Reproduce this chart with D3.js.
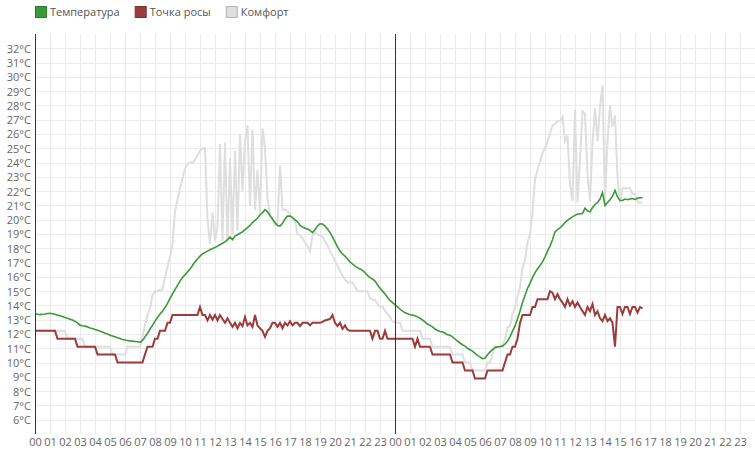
<!DOCTYPE html>
<html>
<head>
<meta charset="utf-8">
<script src="https://cdn.jsdelivr.net/npm/d3@7"></script>
<style>
  html, body { margin: 0; padding: 0; background: #fff; }
  svg { display: block; font-family: "Open Sans", sans-serif; }
</style>
</head>
<body>
<div id="chart"></div>
<script>
// two days on the axis, labels repeat every 24 hours
const hourLabels = ['00','01','02','03','04','05','06','07','08','09','10','11',
                    '12','13','14','15','16','17','18','19','20','21','22','23']
const tempTicks = [6,7,8,9,10,11,12,13,14,15,16,17,18,19,20,21,22,23,24,25,26,27,28,29,30,31,32]

const seriesNames = ['Температура', 'Точка росы', 'Комфорт']
const seriesColors = ['#3a9a3a', '#9c3b3b', '#dedede']

const stepMinutes = 10 // one reading every 10 minutes, starting at 00:00 of day one

// temperature, one row per hour
const temperature = [
  13.42, 13.38, 13.36, 13.38, 13.40, 13.44,
  13.45, 13.42, 13.38, 13.32, 13.28, 13.22,
  13.15, 13.10, 13.04, 12.98, 12.88, 12.78,
  12.62, 12.58, 12.55, 12.50, 12.42, 12.38,
  12.32, 12.26, 12.20, 12.14, 12.06, 12.00,
  11.92, 11.86, 11.80, 11.74, 11.68, 11.62,
  11.58, 11.55, 11.52, 11.50, 11.48, 11.46,
  11.41, 11.55, 11.80, 12.05, 12.35, 12.60,
  12.90, 13.15, 13.40, 13.60, 13.85, 14.15,
  14.50, 14.80, 15.10, 15.40, 15.70, 15.95,
  16.15, 16.35, 16.55, 16.80, 17.05, 17.25,
  17.45, 17.60, 17.70, 17.80, 17.90, 17.98,
  18.05, 18.15, 18.25, 18.35, 18.45, 18.60,
  18.80, 18.60, 18.85, 18.95, 19.05, 19.15,
  19.30, 19.45, 19.60, 19.80, 19.95, 20.10,
  20.35, 20.50, 20.70, 20.55, 20.30, 20.05,
  19.80, 19.60, 19.55, 19.75, 20.05, 20.25,
  20.25, 20.15, 20.00, 19.85, 19.60, 19.50,
  19.40, 19.35, 19.25, 19.10, 19.30, 19.55,
  19.72, 19.70, 19.55, 19.35, 19.10, 18.80,
  18.45, 18.10, 17.80, 17.60, 17.45, 17.25,
  17.05, 16.90, 16.75, 16.65, 16.55, 16.45,
  16.30, 16.10, 15.95, 15.85, 15.70, 15.45,
  15.20, 15.00, 14.80, 14.55, 14.35, 14.20,
  14.05, 13.90, 13.75, 13.60, 13.50, 13.42,
  13.35, 13.32, 13.28, 13.20, 13.10, 12.98,
  12.85, 12.70, 12.60, 12.50, 12.35, 12.25,
  12.18, 12.15, 12.05, 11.95, 11.92, 11.80,
  11.65, 11.50, 11.37, 11.25, 11.15, 11.00,
  10.90, 10.80, 10.65, 10.50, 10.40, 10.28,
  10.30, 10.55, 10.75, 10.90, 11.05, 11.10,
  11.12, 11.15, 11.30, 11.50, 11.80, 12.20,
  12.55, 13.05, 13.60, 14.20, 14.70, 15.20,
  15.55, 15.95, 16.30, 16.55, 16.80, 17.05,
  17.40, 17.80, 18.15, 18.60, 19.15, 19.30,
  19.42, 19.60, 19.80, 19.95, 20.10, 20.20,
  20.30, 20.40, 20.40, 20.45, 20.80, 20.60,
  20.55, 20.85, 21.05, 21.20, 21.45, 21.90,
  21.00, 21.20, 21.40, 21.65, 22.05, 21.60,
  21.35, 21.35, 21.45, 21.40, 21.45, 21.48,
  21.42, 21.50, 21.55, 21.52
]

// dew point
const dewPoint = [
  12.22, 12.22, 12.22, 12.22, 12.22, 12.22,
  12.22, 12.22, 12.22, 11.67, 11.67, 11.67,
  11.67, 11.67, 11.67, 11.67, 11.67, 11.11,
  11.11, 11.11, 11.11, 11.11, 11.11, 11.11,
  11.11, 10.56, 10.56, 10.56, 10.56, 10.56,
  10.56, 10.56, 10.56, 10.00, 10.00, 10.00,
  10.00, 10.00, 10.00, 10.00, 10.00, 10.00,
  10.00, 10.00, 10.56, 11.11, 11.11, 11.11,
  11.67, 11.67, 12.22, 12.22, 12.22, 12.78,
  12.78, 13.33, 13.33, 13.33, 13.33, 13.33,
  13.33, 13.33, 13.33, 13.33, 13.33, 13.33,
  13.89, 13.33, 13.33, 12.95, 13.33, 13.00,
  13.33, 12.95, 13.33, 13.05, 12.78, 13.10,
  12.78, 12.50, 12.78, 12.40, 12.78, 12.55,
  13.20, 12.60, 12.78, 12.50, 13.33, 12.60,
  12.40, 12.22, 11.80, 12.22, 12.40, 12.78,
  12.78, 12.50, 12.78, 12.40, 12.78, 12.60,
  12.90, 12.60, 12.78, 12.78, 12.55, 12.78,
  12.78, 12.78, 12.60, 12.78, 12.78, 12.78,
  12.78, 12.85, 12.95, 13.00, 13.05, 13.33,
  12.78, 12.55, 12.78, 12.35, 12.60, 12.30,
  12.22, 12.22, 12.22, 12.22, 12.22, 12.22,
  12.22, 12.22, 12.22, 11.67, 12.22, 12.22,
  11.67, 11.67, 12.22, 11.67, 11.67, 11.67,
  11.67, 11.67, 11.67, 11.67, 11.67, 11.67,
  11.67, 11.67, 11.11, 11.67, 11.11, 11.11,
  11.11, 11.11, 11.11, 10.56, 10.56, 10.56,
  10.56, 10.56, 10.56, 10.56, 10.56, 10.00,
  10.00, 10.00, 10.00, 10.00, 9.44, 9.44,
  9.44, 9.44, 8.89, 8.89, 8.89, 8.89,
  8.89, 9.44, 9.44, 9.44, 9.44, 9.44,
  9.44, 9.44, 10.00, 10.56, 10.56, 11.11,
  11.11, 11.67, 12.78, 13.33, 13.33, 13.33,
  13.33, 13.89, 13.89, 14.44, 14.44, 14.44,
  14.44, 14.44, 15.00, 14.90, 14.44, 14.80,
  14.44, 14.20, 13.89, 14.44, 14.00, 14.30,
  13.89, 14.20, 13.89, 13.60, 13.33, 13.89,
  13.60, 14.10, 13.33, 13.60, 13.10, 12.90,
  13.33, 12.90, 13.10, 12.78, 11.11, 13.89,
  13.89, 13.40, 13.89, 13.89, 13.40, 13.89,
  13.89, 13.50, 13.89, 13.80
]

// comfort (feels-like) temperature
const comfort = [
  12.22, 12.22, 12.22, 12.22, 12.22, 12.22,
  12.22, 12.22, 12.22, 12.22, 12.22, 12.22,
  12.22, 11.67, 11.67, 11.67, 11.67, 11.67,
  11.67, 11.67, 11.11, 11.11, 11.11, 11.11,
  11.11, 11.11, 11.11, 11.11, 11.11, 11.11,
  11.11, 10.56, 10.56, 10.56, 10.56, 10.56,
  10.56, 11.11, 11.11, 11.11, 11.11, 11.11,
  11.11, 11.80, 12.65, 13.30, 13.80, 14.70,
  15.00, 15.00, 15.10, 15.10, 16.00, 16.70,
  17.40, 18.30, 20.60, 21.40, 22.20, 22.90,
  23.60, 23.90, 24.00, 24.00, 24.20, 24.50,
  24.80, 25.00, 25.00, 20.00, 18.30, 20.50,
  18.50, 19.50, 25.30, 18.50, 25.40, 18.40,
  24.30, 19.00, 24.80, 19.20, 26.00, 22.00,
  25.50, 26.60, 21.00, 26.30, 20.70, 23.50,
  20.50, 26.40, 25.00, 21.50, 20.30, 20.00,
  19.60, 19.70, 23.80, 20.70, 20.70, 20.60,
  20.40, 20.10, 19.90, 19.00, 18.90, 18.70,
  18.40, 18.20, 17.80, 18.90, 19.10, 19.00,
  18.90, 18.80, 18.50, 18.20, 17.80, 17.50,
  17.10, 16.80, 16.40, 16.10, 15.80, 15.60,
  15.60, 15.60, 15.30, 15.00, 15.00, 15.00,
  15.00, 15.00, 14.50, 14.40, 14.40, 14.10,
  13.90, 13.90, 13.60, 13.40, 13.20, 12.88,
  12.80, 12.80, 12.80, 12.22, 12.22, 12.22,
  12.22, 12.22, 12.22, 12.22, 12.22, 11.67,
  11.67, 11.67, 11.67, 11.11, 11.11, 11.11,
  11.11, 11.11, 11.11, 11.11, 11.11, 10.56,
  10.56, 10.56, 10.56, 10.56, 10.00, 10.00,
  10.00, 9.44, 9.44, 9.44, 9.44, 9.44,
  9.44, 10.00, 10.00, 10.56, 11.11, 11.11,
  11.11, 11.25, 11.67, 12.45, 12.55, 13.40,
  13.85, 14.60, 15.30, 16.60, 17.20, 18.40,
  19.00, 20.50, 22.80, 23.50, 24.00, 24.70,
  25.00, 25.50, 26.00, 26.60, 26.70, 26.90,
  26.90, 27.20, 25.50, 25.90, 22.50, 21.30,
  27.70, 21.20, 24.20, 27.60, 27.40, 23.20,
  21.30, 25.40, 27.80, 25.50, 27.90, 29.40,
  21.30, 25.50, 28.00, 26.50, 27.30, 23.00,
  21.20, 22.20, 22.20, 22.20, 22.20, 21.80,
  21.80, 21.20, 21.20, 21.20
]

const renderChart = () => {

  const svgWidth = 755
  const svgHeight = 451

  // space for the legend on top and the hour labels below
  const margin = { top: 34, right: 0, bottom: 17, left: 35 }
  const innerWidth = svgWidth - margin.left - margin.right
  const innerHeight = svgHeight - margin.top - margin.bottom

  const hoursShown = 48

  const xScale = d3.scaleLinear()
    .domain([0, hoursShown])
    .range([0, innerWidth])

  const yScale = d3.scaleLinear()
    .domain([5, 33])
    .range([innerHeight, 0])

  const crisp = v => Math.round(v) + 0.5

  const svg = d3.select('#chart')
    .append('svg')
      .attr('width', svgWidth)
      .attr('height', svgHeight)

  const g = svg.append('g')
    .attr('transform', `translate(${margin.left}, ${margin.top})`)

  // grid
  g.append('g').selectAll('line')
    .data(d3.range(1, hoursShown))
    .enter().append('line')
      .attr('x1', d => crisp(xScale(d)))
      .attr('x2', d => crisp(xScale(d)))
      .attr('y1', 0)
      .attr('y2', innerHeight)
      .style('stroke', '#ebebeb')
      .style('stroke-width', 1)

  g.append('g').selectAll('line')
    .data(tempTicks)
    .enter().append('line')
      .attr('x1', 0)
      .attr('x2', innerWidth)
      .attr('y1', d => crisp(yScale(d)))
      .attr('y2', d => crisp(yScale(d)))
      .style('stroke', '#ebebeb')
      .style('stroke-width', 1)

  // axes
  const xAxis = d3.axisBottom(xScale)
    .tickValues(d3.range(0, hoursShown))
    .tickFormat(d => hourLabels[d % 24])
    .tickSize(0)
    .tickPadding(4)

  const yAxis = d3.axisLeft(yScale)
    .tickValues(tempTicks)
    .tickFormat(d => `${d}°C`)
    .tickSize(0)
    .tickPadding(4)

  const xAxisG = g.append('g')
    .attr('transform', `translate(0, ${innerHeight})`)
    .call(xAxis)
  xAxisG.select('.domain').remove()

  const yAxisG = g.append('g').call(yAxis)
  yAxisG.select('.domain').remove()
  yAxisG.selectAll('text').attr('dy', '0.35em')

  svg.selectAll('.tick text')
    .attr('font-size', 11)
    .attr('font-family', '"Open Sans", sans-serif')
    .style('fill', '#666')

  // the series
  const xValue = (d, i) => xScale(i * stepMinutes / 60)

  const seriesLine = d3.line()
    .x(xValue)
    .y(d => yScale(d))

  g.append('path')
    .datum(comfort)
    .attr('d', seriesLine)
    .style('fill', 'none')
    .style('stroke', seriesColors[2])
    .style('stroke-width', 2)

  g.append('path')
    .datum(dewPoint)
    .attr('d', seriesLine)
    .style('fill', 'none')
    .style('stroke', seriesColors[1])
    .style('stroke-width', 2)

  g.append('path')
    .datum(temperature)
    .attr('d', seriesLine)
    .style('fill', 'none')
    .style('stroke', seriesColors[0])
    .style('stroke-width', 1.6)

  // y axis line and the midnight divider
  g.append('line')
    .attr('x1', 0.5).attr('x2', 0.5)
    .attr('y1', 0).attr('y2', innerHeight)
    .style('stroke', '#333')

  g.append('line')
    .attr('x1', crisp(xScale(24))).attr('x2', crisp(xScale(24)))
    .attr('y1', 0).attr('y2', innerHeight)
    .style('stroke', '#333')

  // legend
  const legend = svg.append('g')
  let legendX = 35
  seriesNames.forEach((name, i) => {
    legend.append('rect')
      .attr('x', legendX + 0.5)
      .attr('y', 6.5)
      .attr('width', 11)
      .attr('height', 11)
      .style('fill', seriesColors[i])
      .style('stroke', d3.color(seriesColors[i]).darker(0.6))

    const label = legend.append('text')
      .attr('x', legendX + 15)
      .attr('y', 16)
      .attr('font-size', 11)
      .style('fill', '#555')
      .text(name)

    legendX += 15 + label.node().getComputedTextLength() + 15
  })
}

renderChart()
</script>
</body>
</html>
